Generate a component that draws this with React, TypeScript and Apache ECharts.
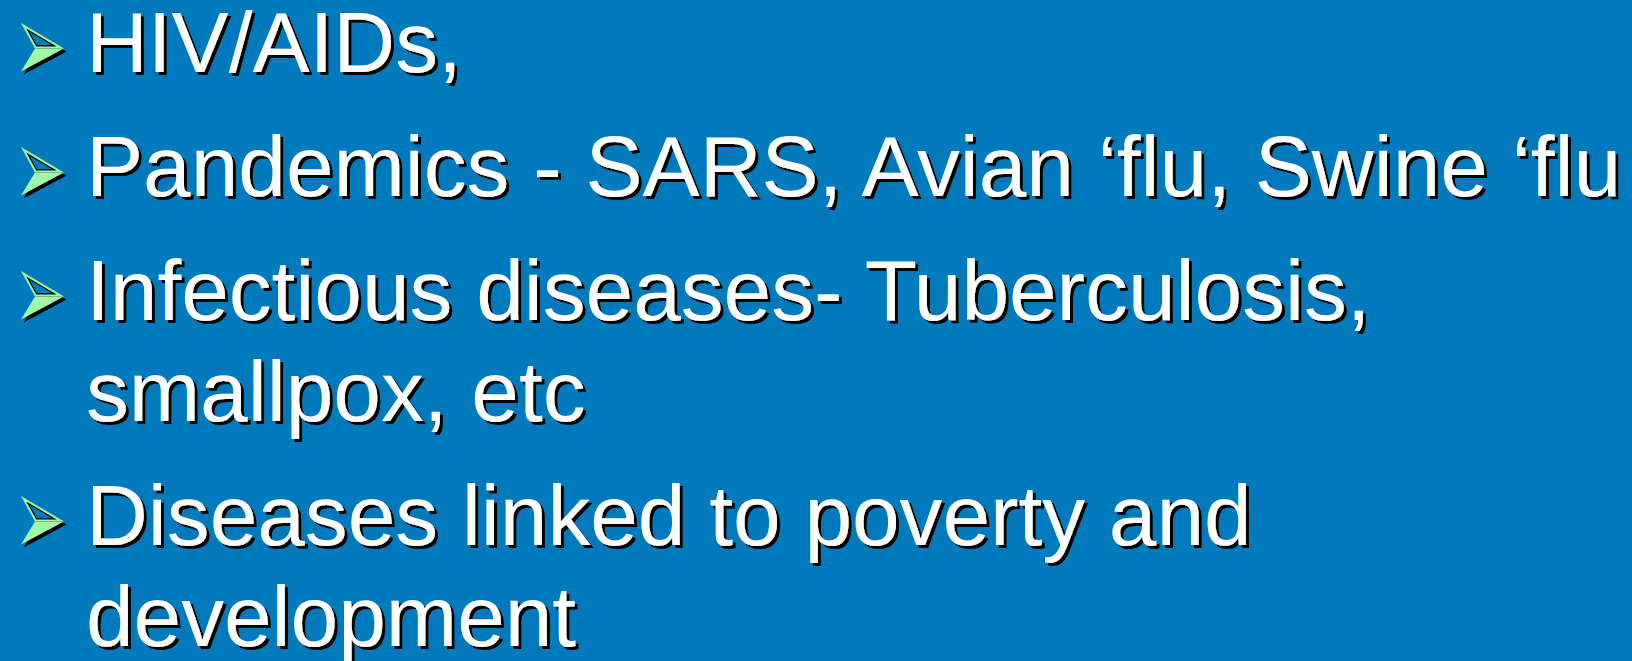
import React, { useEffect, useRef } from "react";
import * as echarts from "echarts";

// ---- content ----
const paragraphs: string[][] = [
  ["HIV/AIDs,"],
  ["Pandemics - SARS, Avian \u2018flu, Swine \u2018flu"],
  ["Infectious diseases- Tuberculosis,", "smallpox, etc"],
  ["Diseases linked to poverty and", "development"],
];

// ---- layout / style ----
const W = 1632;
const H = 661;
const BG = "#007ABD";
const GREEN = "#A2F7A6";
const FONT_SIZE = 85.6;
const TEXT_X = 86;
const FIRST_BASELINE = 72;
const PARA_STEP = 124;
const WRAP_STEP = 101;
const CENTRAL_OFFSET = 29.7;

type P = [number, number];

function inset(pts: P[], d: number): P[] {
  const n = pts.length;
  let area = 0;
  for (let i = 0; i < n; i++) {
    const a = pts[i], b = pts[(i + 1) % n];
    area += a[0] * b[1] - b[0] * a[1];
  }
  const s = area > 0 ? 1 : -1;
  const lines = pts.map((a, i) => {
    const b = pts[(i + 1) % n];
    const dx = b[0] - a[0], dy = b[1] - a[1];
    const len = Math.hypot(dx, dy);
    // inward normal
    const nx = (-dy / len) * s, ny = (dx / len) * s;
    return { p: [a[0] + nx * d, a[1] + ny * d] as P, v: [dx, dy] as P };
  });
  const out: P[] = [];
  for (let i = 0; i < n; i++) {
    const l1 = lines[(i - 1 + n) % n], l2 = lines[i];
    const den = l1.v[0] * l2.v[1] - l1.v[1] * l2.v[0];
    const t = ((l2.p[0] - l1.p[0]) * l2.v[1] - (l2.p[1] - l1.p[1]) * l2.v[0]) / den;
    out.push([l1.p[0] + l1.v[0] * t, l1.p[1] + l1.v[1] * t]);
  }
  return out;
}

function bullet(b: number): any[] {
  const top: P = [21, b - 49];
  const tip: P = [64, b - 23.5];
  const notch: P = [35, b - 23.5];
  const bottom: P = [21, b - 0.5];
  const upper: P[] = [top, tip, notch];
  return [
    {
      type: "polygon",
      shape: { points: [top, tip, bottom, notch].map(p => [p[0] + 2.5, p[1] + 3]) },
      style: { fill: "#000" },
      silent: true,
    },
    {
      type: "polygon",
      shape: { points: [notch, tip, bottom] },
      style: { fill: GREEN },
      silent: true,
    },
    {
      type: "polygon",
      shape: { points: upper },
      style: { fill: GREEN },
      silent: true,
    },
    {
      type: "polygon",
      shape: { points: inset(upper, 2) },
      style: { fill: "#000" },
      silent: true,
    },
    {
      type: "polygon",
      shape: { points: inset(upper, 3.2) },
      style: { fill: BG },
      silent: true,
    },
  ];
}

export default function App() {
  const ref = useRef<HTMLDivElement>(null);
  useEffect(() => {
    document.body.style.margin = "0";
    document.body.style.background = BG;
    const chart = echarts.init(ref.current!, null, { renderer: "svg", width: W, height: H });
    const elements: any[] = [];
    let b = FIRST_BASELINE;
    paragraphs.forEach((lines, pi) => {
      if (pi > 0) b += PARA_STEP;
      elements.push(...bullet(b));
      lines.forEach((line, li) => {
        if (li > 0) b += WRAP_STEP;
        elements.push({
          type: "text",
          x: TEXT_X,
          y: b - CENTRAL_OFFSET,
          silent: true,
          style: {
            text: line,
            fill: "#FFFFFF",
            font: `${FONT_SIZE}px "Liberation Sans", Arial, sans-serif`,
            textAlign: "left",
            verticalAlign: "middle",
            textShadowColor: "#000000",
            textShadowOffsetX: 3,
            textShadowOffsetY: 3,
            textShadowBlur: 0.2,
          },
        });
      });
    });
    chart.setOption({
      animation: false,
      backgroundColor: BG,
      graphic: { elements },
    });
    return () => chart.dispose();
  }, []);
  return <div ref={ref} style={{ width: W, height: H }} />;
}
